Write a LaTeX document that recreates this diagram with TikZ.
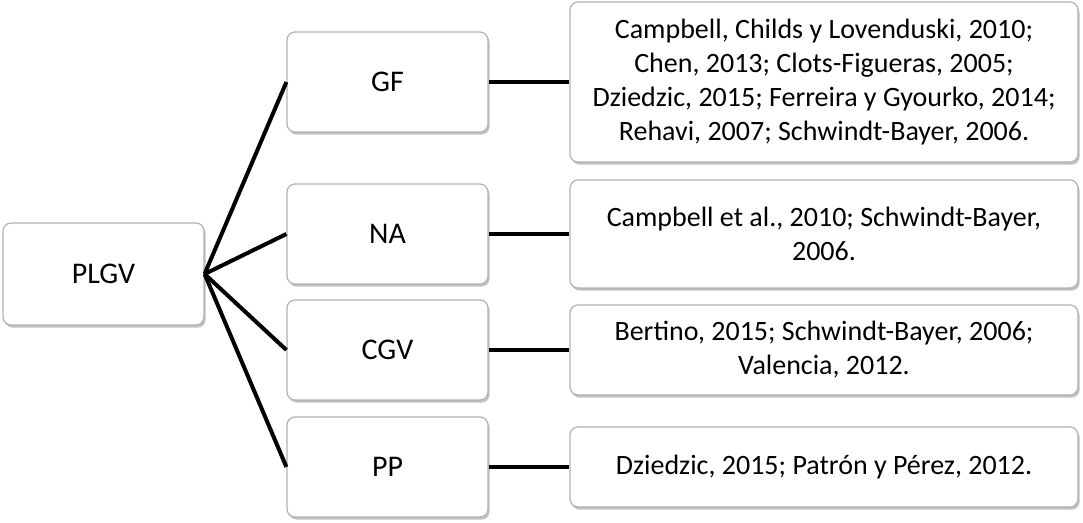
\documentclass[tikz,border=0pt]{standalone}
\usepackage{fontspec}
\setmainfont{Carlito}
\usetikzlibrary{positioning,shadows}

\begin{document}
\begin{tikzpicture}[x=0.5pt,y=-0.5pt,
    box/.style={draw=black!30, fill=white, rounded corners=4pt, line width=0.6pt,
      drop shadow={shadow xshift=0.8pt, shadow yshift=-1.3pt, opacity=0.35, fill=black!70},
      align=center, inner sep=0pt, font=\fontsize{14}{17}\selectfont},
    topic/.style={box, minimum width=100.5pt, minimum height=50pt, font=\fontsize{15}{18}\selectfont},
    refs/.style={box, minimum width=254pt},
    link/.style={line width=2pt}]
    % Frame
    \useasboundingbox (0,0) rectangle (1083,523);

    % Root
    \node[topic, minimum height=51pt] (plgv) at (103.5,274) {PLGV};

    % Topics
    \node[topic] (gf)  at (387.5,82)  {GF};
    \node[topic] (na)  at (387.5,234) {NA};
    \node[topic] (cgv) at (387.5,350) {CGV};
    \node[topic] (pp)  at (387.5,467) {PP};

    % References
    \node[refs, minimum height=80pt] (gfref) at (824,82)
      {Campbell, Childs y Lovenduski, 2010;\\ Chen, 2013; Clots-Figueras, 2005;\\
       Dziedzic, 2015; Ferreira y Gyourko, 2014;\\ Rehavi, 2007; Schwindt-Bayer, 2006.};
    \node[refs, minimum height=54pt] (naref) at (824,234)
      {Campbell et al., 2010; Schwindt-Bayer,\\ 2006.};
    \node[refs, minimum height=45pt] (cgvref) at (824,350)
      {Bertino, 2015; Schwindt-Bayer, 2006;\\ Valencia, 2012.};
    \node[refs, minimum height=40pt] (ppref) at (824,467)
      {Dziedzic, 2015; Patrón y Pérez, 2012.};

    % Connectors
    \foreach \t/\r in {gf/gfref, na/naref, cgv/cgvref, pp/ppref} {
        \draw[link] (plgv.east) -- (\t.west);
        \draw[link] (\t.east) -- (\r.west);
    }
\end{tikzpicture}
\end{document}
